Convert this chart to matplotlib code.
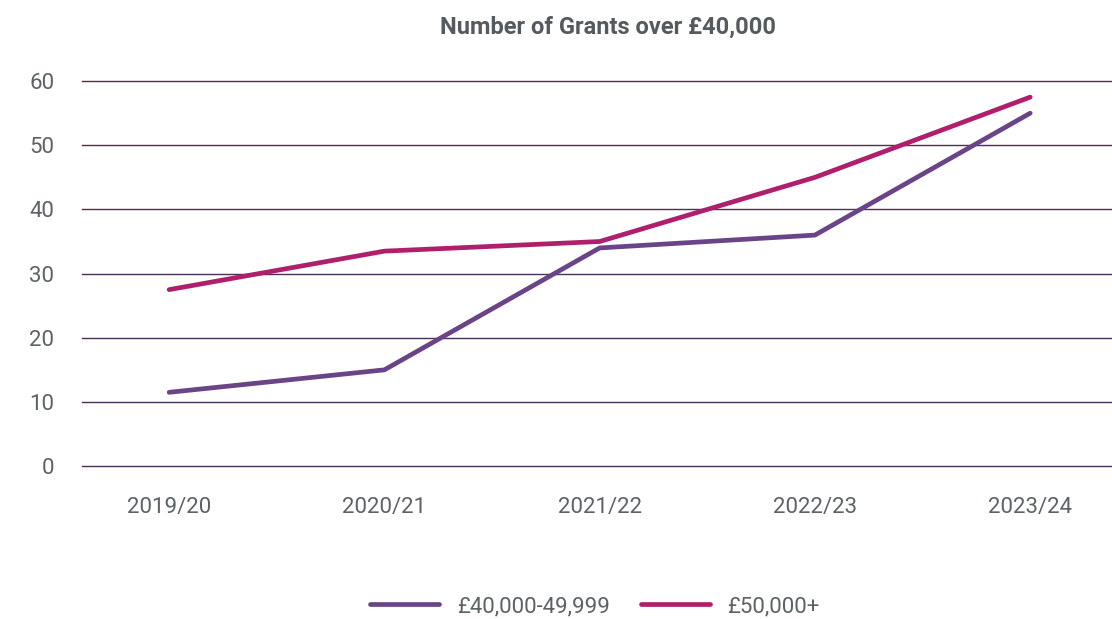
import matplotlib
matplotlib.use("Agg")
import matplotlib.pyplot as plt

years = ["2019/20", "2020/21", "2021/22", "2022/23", "2023/24"]
grants_40k_50k = [11.5, 15, 34, 36, 55]
grants_50k_plus = [27.5, 33.5, 35, 45, 57.5]

plt.rcParams['font.family'] = ['Roboto', 'DejaVu Sans']
text_color = '#5d6266'
grid_color = '#4a2f57'

fig = plt.figure(figsize=(11.12, 6.19), dpi=100)
ax = fig.add_axes([0.0737, 0.247, 0.9263, 0.622])

x = range(len(years))
ax.plot(x, grants_40k_50k, color='#6a4487', lw=3.4, label='£40,000-49,999',
        solid_capstyle='round', zorder=3)
ax.plot(x, grants_50k_plus, color='#b01f6b', lw=3.4, label='£50,000+',
        solid_capstyle='round', zorder=3)

ax.set_ylim(0, 60)
ax.set_xlim(-0.405, 4.38)
ax.set_yticks(range(0, 61, 10))
ax.set_xticks(list(x))
ax.set_xticklabels(years)
ax.yaxis.grid(True, color=grid_color, lw=1)
ax.set_axisbelow(True)
for s in ax.spines.values():
    s.set_visible(False)
ax.tick_params(axis='both', length=0, labelsize=16, labelcolor=text_color)
ax.tick_params(axis='y', pad=20)
ax.tick_params(axis='x', pad=22)
for gl in ax.get_ygridlines():
    gl.set_clip_on(False)

fig.suptitle('Number of Grants over £40,000', x=0.547, y=0.975,
             fontsize=17, fontweight='bold', color='#555a5e')

fig.legend(loc='center', bbox_to_anchor=(0.535, 0.02), ncol=2, frameon=False,
           fontsize=16, handlelength=3.1, columnspacing=1.4, labelcolor=text_color)

fig.savefig('out.png', dpi=100)
